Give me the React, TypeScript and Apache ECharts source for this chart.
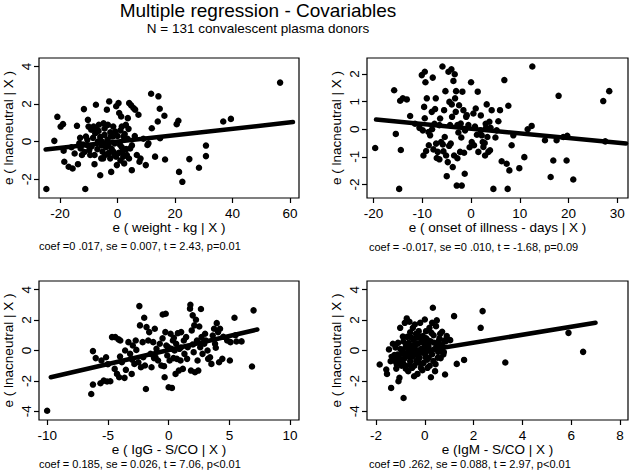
import React, { useEffect, useRef } from "react";
import * as echarts from "echarts";

const FONT = "'Liberation Sans', Arial, Helvetica, sans-serif";

const titleText = "Multiple regression - Covariables";
const subtitleText = "N = 131 convalescent plasma donors";
const yName = "e ( lnacneutral | X )";

const xNames = [
  "e ( weight - kg | X )",
  "e ( onset of illness - days | X )",
  "e ( IgG - S/CO | X )",
  "e (IgM - S/CO | X )",
];

const coefTexts = [
  "coef =0 .017, se = 0.007, t = 2.43, p=0.01",
  "coef = -0.017, se =0 .010, t = -1.68, p=0.09",
  "coef = 0.185, se = 0.026, t = 7.06, p<0.01",
  "coef =0 .262, se = 0.088, t = 2.97, p<0.01",
];

const xTicks = [
  [-20, 0, 20, 40, 60],
  [-20, -10, 0, 10, 20, 30],
  [-10, -5, 0, 5, 10],
  [-2, 0, 2, 4, 6, 8],
];
const yTicks = [
  [-2, 0, 2, 4],
  [-2, -1, 0, 1, 2],
  [-4, -2, 0, 2, 4],
  [-4, -2, 0, 2, 4],
];

const weightPts = [
  [-24.74, -2.52], [-21.97, 0.04], [-20.92, 1.32], [-19.77, 0.8], [-18.96, 0.93], [-18.73, -0.48],
  [-18.5, -1.07], [-16.99, -1.34], [-15.61, -1.43], [-14.91, -0.63], [-14.1, 0.84], [-13.76, -1.2],
  [-13.29, -0.09], [-12.83, -0.36], [-12.37, -0.71], [-11.68, 1.73], [-11.21, -2.52], [-10.98, 0.27],
  [-10.64, -0.18], [-10.29, 1.16], [-10.06, 0.8], [-9.83, -0.45], [-9.48, -0.71], [-9.13, 0.63],
  [-8.32, 0.8], [-7.98, -0.71], [-7.75, 0.45], [-7.51, 1.96], [-7.17, 0.63], [-6.82, 0.0],
  [-6.59, 0.57], [-6.01, -1.79], [-5.66, -0.89], [-5.43, 0.0], [-5.2, -0.54], [-4.86, 0.98],
  [-4.51, 0.36], [-4.28, -0.71], [-3.7, 1.7], [-3.35, 0.89], [-3.12, -0.18], [-2.89, 2.14],
  [-2.54, -0.89], [-2.31, 0.27], [-2.2, -1.61], [-1.62, 0.27], [-1.39, -0.54], [-1.04, -0.71],
  [-0.81, 0.54], [-0.46, 1.88], [-0.23, -1.25], [0.35, 2.05], [0.58, 1.52], [0.92, -0.18],
  [1.27, 1.34], [1.5, 0.8], [1.73, -0.54], [2.08, 0.27], [2.31, -1.16], [2.89, 0.89],
  [3.24, -0.71], [3.58, 1.25], [3.82, 0.68], [4.05, 2.05], [4.39, -0.36], [4.74, 1.93],
  [4.97, -1.52], [5.55, 1.79], [6.13, 1.7], [6.71, -0.71], [7.28, 1.43], [7.63, -1.07],
  [9.83, -1.25], [10.4, -0.18], [10.75, -0.09], [11.68, 2.55], [11.91, 0.71], [13.06, -0.8],
  [13.99, 1.07], [14.22, 2.41], [14.68, 1.75], [16.3, 1.38], [16.53, -0.95], [14.8, 0.18],
  [20.58, 0.93], [21.16, 1.11], [21.39, -1.61], [22.54, -2.14], [24.97, -0.93], [28.32, -1.39],
  [30.75, -0.21], [30.75, -0.77], [36.76, 1.07], [39.42, 1.21], [56.53, 3.14],
  [-12.0, -0.15], [-11.5, -0.55], [-10.5, 0.1], [-9.0, -0.25], [-8.5, 0.2], [-7.0, -0.4],
  [-6.5, 0.9], [-6.0, 0.25], [-5.5, -0.2], [-5.0, -0.9], [-4.5, 0.7], [-4.0, -0.3],
  [-3.5, 0.1], [-3.0, -0.6], [-2.5, 0.5], [-2.0, -0.4], [-1.5, 0.8], [-1.0, -0.1],
  [-0.5, -0.8], [0.0, 0.3], [0.5, -0.6], [1.0, 0.6], [1.5, -0.3], [2.0, -0.8],
  [2.5, 0.4], [3.0, -0.4], [3.5, 0.15], [4.0, -0.9], [5.0, -0.2], [6.0, 0.3],
  [8.0, -0.9], [9.0, 0.15], [-16.0, -0.3], [-13.0, 0.2], [-8.0, -1.2], [1.0, -1.0],
];

const onsetPts = [
  [-19.67, -0.68], [-15.78, 1.41], [-15.44, -0.17], [-14.75, -2.16], [-14.55, 1.03], [-14.41, -0.75],
  [-14.0, 1.12], [-13.18, 1.08], [-12.5, 0.48], [-10.59, 0.05], [-10.11, 1.96], [-9.9, -0.04],
  [-9.77, -0.95], [-9.63, 0.81], [-9.49, 2.08], [-9.36, 1.7], [-9.22, -0.79], [-9.08, 1.12],
  [-8.74, -0.1], [-8.67, -0.58], [-8.4, -0.22], [-8.06, 0.63], [-7.86, 1.87], [-7.72, -0.73],
  [-7.38, 0.73], [-7.24, 1.12], [-7.17, -0.52], [-7.04, -1.04], [-6.83, -0.82], [-6.49, -1.09],
  [-6.35, 0.39], [-6.15, -0.46], [-5.87, 2.27], [-5.67, -0.8], [-5.53, 0.69], [-5.4, -0.28],
  [-5.26, 1.38], [-5.12, -0.95], [-4.99, -1.7], [-4.78, -1.19], [-4.64, 2.08], [-4.44, 0.99],
  [-4.3, 0.15], [-4.17, -0.52], [-4.03, 2.17], [-3.96, 0.9], [-3.76, -1.37], [-3.62, 1.75],
  [-3.48, -0.95], [-3.35, 1.99], [-3.28, 1.12], [-3.14, 0.63], [-3.07, 1.38], [-2.94, -2.04],
  [-2.8, 0.15], [-2.6, -0.12], [-2.46, 0.87], [-2.25, -0.82], [-2.12, 0.21], [-1.91, -2.04],
  [-1.78, 1.36], [-1.57, 0.69], [-1.43, -0.85], [-1.3, -1.61], [-1.23, -0.04], [-0.89, 0.51],
  [-0.55, 0.15], [0.0, 1.7], [0.14, -0.46], [0.48, 0.57], [0.61, -0.58], [0.96, 0.75],
  [1.37, 1.36], [1.5, -0.82], [1.98, -0.04], [2.19, -0.22], [2.39, -0.46], [2.53, -0.64],
  [2.87, -0.95], [3.07, 0.05], [3.21, 0.9], [3.35, -0.28], [3.55, -0.82], [3.76, 0.27],
  [3.89, -0.76], [4.23, 0.69], [4.58, -2.16], [5.26, -0.04], [5.6, 0.29], [5.94, 0.69],
  [6.28, -1.16], [6.83, 1.78], [7.31, -1.25], [7.51, -2.16], [7.65, 0.85], [7.86, -1.49],
  [8.33, -0.58], [8.67, -0.22], [9.9, -1.41], [10.93, -1.01], [11.61, 0.0], [12.43, 0.12],
  [12.57, 2.27], [15.16, -0.4], [16.33, -1.73], [16.87, -1.13], [17.55, -0.4], [17.96, 1.21],
  [18.92, -0.28], [19.6, -1.13], [19.74, -0.24], [20.97, -1.82], [27.12, 1.02], [27.53, -0.44],
  [28.35, 1.38],
  [-11.5, 0.2], [-8.0, 0.0], [-6.5, 0.15], [-5.8, -0.55], [-4.5, -0.6], [-3.9, 0.45],
  [-2.0, -0.3], [-1.0, 0.45], [0.8, 0.1], [1.2, -0.2], [2.8, -0.5], [3.0, 0.2],
  [4.0, 0.05], [-0.3, -0.65], [2.0, 0.5], [-7.5, 0.2], [-9.5, 0.4], [-2.8, -1.05], [5.0, -0.3],
];

const iggPts = [
  [-10.0, -3.96], [-6.23, -0.04], [-6.37, -2.86], [-6.23, -2.24], [-5.61, -2.15], [-5.53, -0.66],
  [-5.34, -1.98], [-5.15, -0.44], [-5.07, -2.04], [-4.8, -2.02], [-4.66, 0.88], [-4.44, -1.21],
  [-4.39, 0.88], [-4.25, -1.54], [-4.12, 0.73], [-4.07, -1.76], [-3.98, 0.66], [-3.85, -0.77],
  [-3.63, -1.8], [-3.58, 0.0], [-3.52, -1.27], [-3.31, 0.55], [-3.17, -0.22], [-3.04, -1.54],
  [-2.95, 0.33], [-2.82, -0.88], [-2.71, 0.66], [-2.66, 0.04], [-2.49, -0.77], [-2.41, 2.92],
  [-2.36, 1.65], [-2.28, -1.1], [-2.14, 0.55], [-2.09, -0.44], [-2.01, 2.15], [-1.95, -0.99],
  [-1.87, -2.53], [-1.82, 1.54], [-1.68, 0.66], [-1.6, 1.21], [-1.49, -0.22], [-1.41, -1.1],
  [-1.27, 0.55], [-1.14, 1.43], [-1.08, -0.44], [-1.0, 0.11], [-0.87, -0.66], [-0.73, 0.44],
  [-0.6, -0.99], [-0.49, 2.37], [-0.38, -1.03], [-0.33, -1.76], [-0.24, 2.42], [-0.27, 1.21],
  [-0.19, 0.33], [-0.11, -0.33], [-0.05, 0.22], [0.0, -2.42], [0.08, -0.66], [0.16, 1.1],
  [0.22, 0.11], [0.27, -2.46], [0.35, 0.66], [0.43, 0.84], [0.49, 0.0], [0.57, -1.54],
  [0.62, 0.44], [0.68, -0.55], [0.76, 1.14], [0.84, -1.32], [0.89, 0.11], [0.98, -0.66],
  [1.03, 1.21], [1.17, -1.21], [1.25, 0.66], [1.3, -0.22], [1.44, 0.88], [1.52, -0.55],
  [1.57, 0.22], [1.79, 3.01], [1.76, 2.75], [1.84, -1.32], [1.9, 1.32], [1.98, 2.31],
  [2.06, -0.11], [2.11, 1.65], [2.17, -1.43], [2.25, 2.02], [2.33, 0.66], [2.38, -0.66],
  [2.44, -1.32], [2.52, 1.58], [2.6, 0.22], [2.66, 2.73], [2.71, 0.88], [2.79, -0.22],
  [2.93, 0.44], [3.06, 0.66], [3.2, 0.0], [3.25, -0.55], [3.41, -0.44], [3.52, -0.88],
  [3.63, 0.99], [3.74, 1.43], [3.82, 0.44], [3.88, 0.18], [3.96, 1.8], [4.07, 1.21],
  [4.15, -0.77], [4.23, 1.43], [4.42, -0.55], [4.82, 0.66], [5.04, -0.66], [5.09, 0.55],
  [5.42, 2.15], [5.58, 0.59], [6.86, -1.05], [6.99, 2.64],
  [-6.0, -0.5], [-5.0, -0.9], [-4.0, -0.4], [-3.0, -0.6], [-1.2, -0.5], [0.4, -0.5],
  [1.0, 0.2], [2.0, 0.4], [3.0, 1.1], [4.5, 0.9], [5.5, 1.0], [6.0, 0.6], [-0.5, 0.8],
];

const igmPts = [
  [-1.85, -0.92], [-1.58, -1.25], [-1.55, -1.54], [-1.47, 0.07], [-1.38, -2.46], [-1.31, 0.44],
  [-1.28, -0.48], [-1.21, -0.7], [-1.17, -1.19], [-1.12, -0.26], [-1.08, -2.02], [-1.04, -1.8],
  [-1.01, 1.49], [-0.98, -0.7], [-0.94, 0.0], [-0.9, 0.92], [-0.87, -3.12], [-0.85, -0.92],
  [-0.82, 1.82], [-0.76, 0.4], [-0.74, 2.11], [-0.71, -0.37], [-0.68, -1.36], [-0.65, 0.22],
  [-0.63, 1.89], [-0.6, -0.7], [-0.57, 0.88], [-0.55, -0.04], [-0.52, -1.14], [-0.49, 1.49],
  [-0.46, -0.26], [-0.44, -1.69], [-0.41, 1.71], [-0.38, 0.4], [-0.35, -0.7], [-0.33, 0.84],
  [-0.3, -1.54], [-0.27, 0.0], [-0.25, 1.27], [-0.22, -0.48], [-0.19, 1.82], [-0.16, -1.14],
  [-0.14, 0.62], [-0.11, -0.15], [-0.08, 0.95], [-0.05, -0.81], [-0.03, 0.18], [0.0, 2.04],
  [0.03, -0.44], [0.05, 1.27], [0.08, 0.4], [0.11, -1.14], [0.14, 0.66], [0.16, -0.48],
  [0.19, 1.49], [0.22, -0.04], [0.25, -1.76], [0.27, 1.16], [0.3, 1.82], [0.33, 2.81],
  [0.35, -0.7], [0.38, 0.51], [0.42, -1.36], [0.46, 1.6], [0.49, 1.98], [0.53, -0.48],
  [0.57, 0.62], [0.63, 1.1], [0.67, 0.13], [0.71, 1.23], [0.76, -0.26], [0.8, 0.66],
  [0.83, -1.58], [0.9, 0.95], [1.04, 0.68], [1.2, 2.26], [1.31, -0.88], [1.61, -0.62],
  [2.29, 1.49], [2.37, 2.59], [3.3, -0.79], [5.89, 1.16], [6.49, -0.09],
  [-1.25, -0.3], [-1.2, 0.2], [-1.15, -0.9], [-1.1, 0.5], [-1.05, -0.5], [-1.0, 0.1],
  [-0.95, -1.0], [-0.9, -0.2], [-0.88, 0.6], [-0.85, -0.55], [-0.8, 0.2], [-0.78, -1.2],
  [-0.72, 0.9], [-0.7, -0.1], [-0.66, 0.5], [-0.62, -0.95], [-0.6, 1.2], [-0.55, 0.3],
  [-0.5, -0.4], [-0.47, 0.7], [-0.43, -1.0], [-0.4, 0.1], [-0.36, 1.1], [-0.32, -0.3],
  [-0.28, 0.45], [-0.24, -0.8], [-0.2, 0.9], [-0.15, 0.1], [-0.1, -1.3], [-0.06, 0.5],
  [0.02, -0.2], [0.06, 0.8], [0.1, -0.6], [0.15, 0.3], [0.2, -1.0], [0.24, 0.6],
  [0.3, -0.25], [0.36, 1.0], [0.4, 0.1], [0.44, -0.9], [0.5, 0.4], [0.55, -0.1],
  [0.6, 0.8], [0.65, -0.5], [0.7, 0.35], [0.78, -0.1], [0.85, 0.6], [-1.4, -0.7],
];

const fitWeight = [[-25, -0.42], [61, 1.04]];
const fitOnset = [[-19.5, 0.35], [31.8, -0.52]];
const fitIgG = [[-9.7, -1.76], [7.3, 1.38]];
const fitIgM = [[-1.4, -0.38], [7.0, 1.82]];

const pointSets = [weightPts, onsetPts, iggPts, igmPts];
const fitSets = [fitWeight, fitOnset, fitIgG, fitIgM];

// layout (pixels)
const grids = [
  { left: 36, top: 58, width: 263, height: 140 },
  { left: 367, top: 58, width: 261, height: 140 },
  { left: 36, top: 281, width: 263, height: 139 },
  { left: 367, top: 281, width: 261, height: 139 },
];
const xRanges = [[-27.3, 63.1], [-21.35, 32.2], [-10.67, 10.73], [-2.37, 8.33]];
const yRanges = [[-3.0, 4.45], [-2.49, 2.58], [-4.57, 4.57], [-4.57, 4.57]];
const coefPos = [[39, 246], [369, 247], [39, 464], [369, 464]];

function buildOption() {
  const xAxis: any[] = [];
  const yAxis: any[] = [];
  const series: any[] = [];
  const grid: any[] = [];
  for (let i = 0; i < 4; i++) {
    grid.push({ ...grids[i], show: true, borderColor: "#000", borderWidth: 1.2, backgroundColor: "#fff" });
    xAxis.push({
      type: "value",
      gridIndex: i,
      position: "bottom",
      min: xRanges[i][0],
      max: xRanges[i][1],
      name: xNames[i],
      nameLocation: "middle",
      nameGap: 22,
      nameTextStyle: { color: "#000", fontSize: 13.5, fontFamily: FONT },
      axisLine: { show: false, onZero: false },
      splitLine: { show: false },
      axisTick: { show: true, inside: false, length: 5, lineStyle: { color: "#000", width: 1.2 }, customValues: xTicks[i] },
      axisLabel: { color: "#000", fontSize: 13.5, fontFamily: FONT, margin: 8, customValues: xTicks[i] },
    });
    yAxis.push({
      type: "value",
      gridIndex: i,
      position: "left",
      min: yRanges[i][0],
      max: yRanges[i][1],
      name: yName,
      nameLocation: "middle",
      nameRotate: 90,
      nameGap: 24,
      nameMoveOverlap: false,
      nameTextStyle: { color: "#000", fontSize: 13.5, fontFamily: FONT },
      axisLine: { show: false, onZero: false },
      splitLine: { show: false },
      axisTick: { show: true, inside: false, length: 5, lineStyle: { color: "#000", width: 1.2 }, customValues: yTicks[i] },
      axisLabel: {
        color: "#000",
        fontSize: 13.5,
        fontFamily: FONT,
        rotate: 90,
        align: "center",
        verticalAlign: "middle",
        margin: 13,
        customValues: yTicks[i],
      },
    });
    series.push({
      type: "scatter",
      xAxisIndex: i,
      yAxisIndex: i,
      data: pointSets[i],
      symbol: "circle",
      symbolSize: 6.5,
      itemStyle: { color: "#000", opacity: 1 },
      z: 2,
    });
    series.push({
      type: "line",
      xAxisIndex: i,
      yAxisIndex: i,
      data: fitSets[i],
      symbol: "none",
      lineStyle: { color: "#000", width: 4.5, cap: "round" },
      z: 3,
    });
  }
  const graphic: any[] = [
    {
      type: "text",
      x: 258,
      y: 10,
      style: { text: titleText, fill: "#000", font: `19px ${FONT}`, textAlign: "center", textVerticalAlign: "middle" },
    },
    {
      type: "text",
      x: 258,
      y: 28,
      style: { text: subtitleText, fill: "#000", font: `13.5px ${FONT}`, textAlign: "center", textVerticalAlign: "middle" },
    },
  ];
  for (let i = 0; i < 4; i++) {
    graphic.push({
      type: "text",
      x: coefPos[i][0],
      y: coefPos[i][1],
      style: { text: coefTexts[i], fill: "#000", font: `11px ${FONT}`, textAlign: "left", textVerticalAlign: "middle" },
    });
  }
  return {
    animation: false,
    backgroundColor: "#fff",
    textStyle: { fontFamily: FONT },
    grid,
    xAxis,
    yAxis,
    series,
    graphic,
  };
}

export default function App() {
  const ref = useRef<HTMLDivElement>(null);
  useEffect(() => {
    document.body.style.margin = "0";
    const chart = echarts.init(ref.current!, null, { renderer: "svg" });
    chart.setOption(buildOption());
    return () => chart.dispose();
  }, []);
  return <div ref={ref} style={{ width: 630, height: 472 }} />;
}
